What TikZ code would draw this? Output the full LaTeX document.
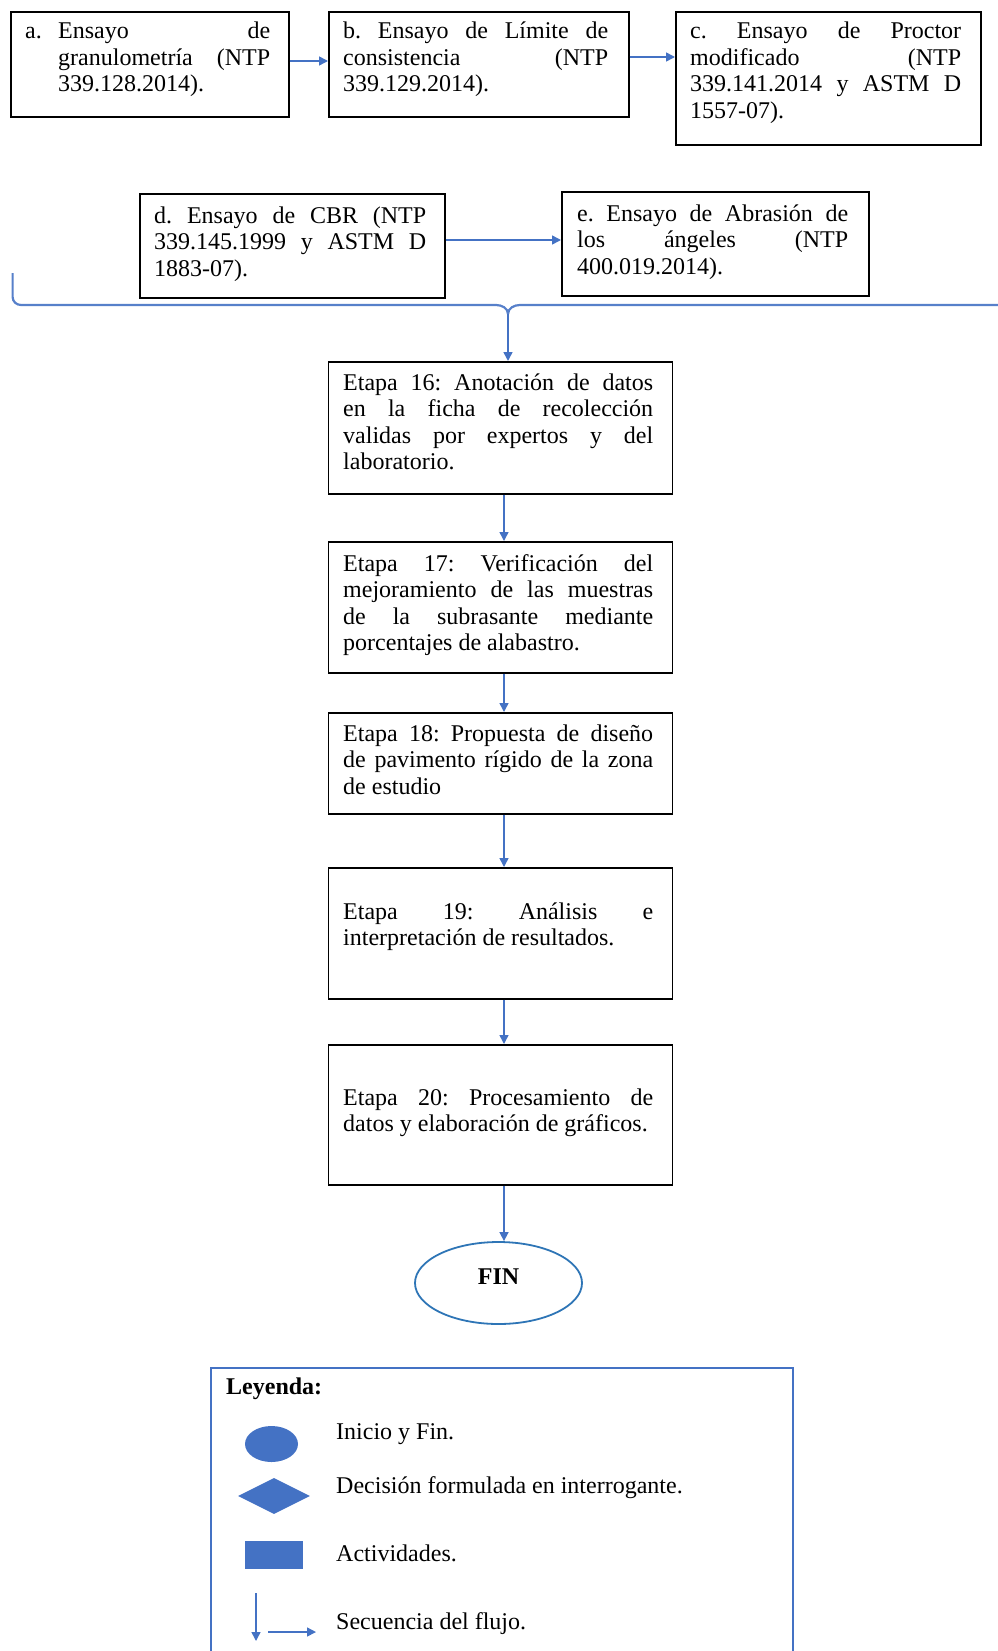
\documentclass[tikz,border=0pt]{standalone}
\usepackage{fontspec}
\setmainfont{Liberation Serif}
\usetikzlibrary{arrows.meta,shapes.geometric}
\definecolor{arrowblue}{HTML}{4472C4}
\definecolor{finblue}{HTML}{2E75B6}
\definecolor{legblue}{HTML}{4472C4}
\newcommand{\txtfont}{\fontsize{24}{26.5}\selectfont\frenchspacing\tolerance=10000\hyphenpenalty=10000\exhyphenpenalty=10000}
\tikzset{
 boxnode/.style={draw=black, line width=1.6pt, anchor=north west, inner sep=0pt},
 txt/.style={anchor=base west, inner sep=0pt, align=justify, font=\txtfont},
 plain/.style={anchor=base west, inner sep=0pt, font=\txtfont},
 flow/.style={draw=arrowblue, line width=1.5pt, -{Triangle[length=9pt,width=9pt]}},
 bracket/.style={draw=arrowblue!90, line width=2.2pt},
 legshape/.style={fill=legblue, draw=none, inner sep=0pt},
}
\begin{document}
\begin{tikzpicture}[x=1pt,y=-1pt]
\useasboundingbox (0,0) rectangle (998,1651);
% top row
\node[boxnode, minimum width=278pt, minimum height=105pt] (a) at (10,11) {};
\node[txt, text width=245pt] (ta) at (25,38.6) {\makebox[33pt][l]{a.}\hangindent=33pt\hangafter=1 Ensayo de\linebreak granulometría (NTP\linebreak 339.128.2014).\par};
\node[boxnode, minimum width=300pt, minimum height=105pt] (b) at (328,11) {};
\node[txt, text width=265pt] (tb) at (343,38.6) {b. Ensayo de Límite de\linebreak consistencia (NTP\linebreak 339.129.2014).};
\node[boxnode, minimum width=305pt, minimum height=133pt] (c) at (675,11) {};
\node[txt, text width=271pt] (tc) at (690,38.6) {c. Ensayo de Proctor\linebreak modificado (NTP\linebreak 339.141.2014 y ASTM D\linebreak 1557-07).};
\coordinate (ab) at (0,61);
\coordinate (bc) at (0,57);
\draw[flow] (a.east |- ab) -- (b.west |- ab);
\draw[flow] (b.east |- bc) -- (c.west |- bc);
% second row
\node[boxnode, minimum width=305pt, minimum height=104pt] (d) at (139,193) {};
\node[txt, text width=272pt] (td) at (154,223) {d. Ensayo de CBR (NTP\linebreak 339.145.1999 y ASTM D\linebreak 1883-07).};
\node[boxnode, minimum width=307pt, minimum height=104pt] (e) at (561,191) {};
\node[txt, text width=271pt] (te) at (577,221) {e. Ensayo de Abrasión de\linebreak los ángeles (NTP\linebreak 400.019.2014).};
\coordinate (de) at (0,240);
\draw[flow] (d.east |- de) -- (e.west |- de);
% bracket
\coordinate (tip) at (508,314);
\draw[bracket] (12.6,273) -- (12.6,297) to[out=-90,in=180] (21,305) -- (496,305) to[out=0,in=90] (tip);
\draw[bracket] (tip) to[out=90,in=180] (520,305) -- (1005,305);
% stage boxes
\node[boxnode, minimum width=344pt, minimum height=132pt] (s16) at (327.5,361) {};
\node[txt, text width=310pt] (t16) at (343,390) {Etapa 16: Anotación de datos\linebreak en la ficha de recolección\linebreak validas por expertos y del\linebreak laboratorio.};
\node[boxnode, minimum width=344pt, minimum height=131pt] (s17) at (327.5,541) {};
\node[txt, text width=310pt] (t17) at (343,571) {Etapa 17: Verificación del\linebreak mejoramiento de las muestras\linebreak de la subrasante mediante\linebreak porcentajes de alabastro.};
\node[boxnode, minimum width=344pt, minimum height=101pt] (s18) at (327.5,712) {};
\node[txt, text width=310pt] (t18) at (343,741) {Etapa 18: Propuesta de diseño\linebreak de pavimento rígido de la zona\linebreak de estudio};
\node[boxnode, minimum width=344pt, minimum height=131pt] (s19) at (327.5,867) {};
\node[txt, text width=310pt] (t19) at (343,919) {Etapa 19: Análisis e\linebreak interpretación de resultados.};
\node[boxnode, minimum width=344pt, minimum height=140pt] (s20) at (327.5,1044) {};
\node[txt, text width=310pt] (t20) at (343,1105) {Etapa 20: Procesamiento de\linebreak datos y elaboración de gráficos.};
\node[draw=finblue, line width=1.8pt, ellipse, minimum width=167pt, minimum height=82pt, inner sep=0pt] (fin) at (498.5,1283) {};
\node[inner sep=0pt, font=\bfseries\txtfont] (fintxt) at (498.5,1277) {FIN};
\coordinate (ax) at (504,0);
\draw[flow] (tip) -- (tip |- s16.north);
\draw[flow] (s16.south -| ax) -- (s17.north -| ax);
\draw[flow] (s17.south -| ax) -- (s18.north -| ax);
\draw[flow] (s18.south -| ax) -- (s19.north -| ax);
\draw[flow] (s19.south -| ax) -- (s20.north -| ax);
\draw[flow] (s20.south -| ax) -- (fin.north -| ax);
% legend
\node[draw=legblue, line width=1.6pt, anchor=north west, minimum width=582pt, minimum height=320pt, inner sep=0pt] (legend) at (210,1367) {};
\node[plain, font=\bfseries\txtfont] (leyenda) at (226,1394) {Leyenda:};
\node[legshape, ellipse, minimum width=53pt, minimum height=36pt] (lell) at (271.5,1444) {};
\node[legshape, diamond, aspect=2, minimum width=72pt, minimum height=36pt] (ldia) at (274,1496) {};
\node[legshape, rectangle, minimum width=58pt, minimum height=28pt] (lrect) at (274,1555) {};
\coordinate (dn1) at (256,1593);
\coordinate (dn2) at (256,1641);
\coordinate (rt1) at (268,1632);
\coordinate (rt2) at (316,1632);
\draw[flow] (dn1) -- (dn2);
\draw[flow] (rt1) -- (rt2);
\node[plain] (l1) at (336,1439) {Inicio y Fin.};
\node[plain] (l2) at (336,1493) {Decisión formulada en interrogante.};
\node[plain] (l3) at (336,1561) {Actividades.};
\node[plain] (l4) at (336,1629) {Secuencia del flujo.};
\end{tikzpicture}
\end{document}
